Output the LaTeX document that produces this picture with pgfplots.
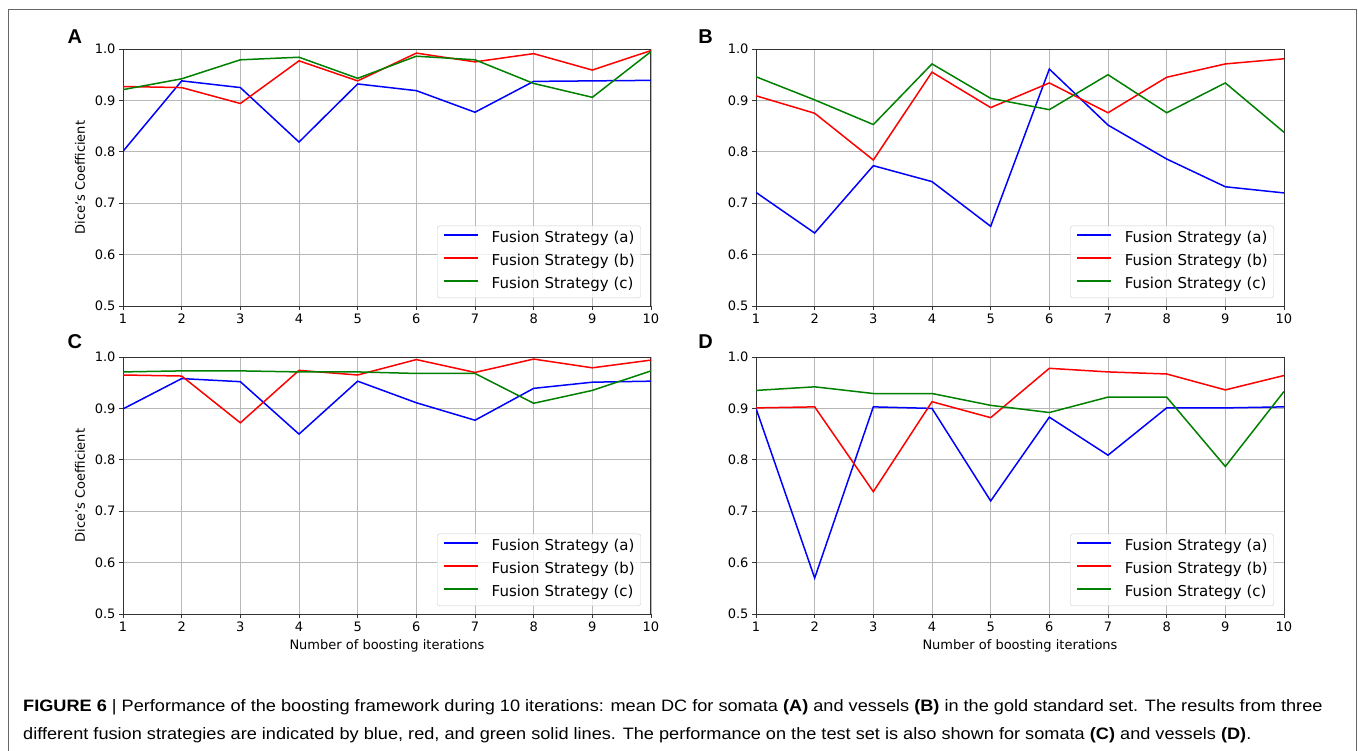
\documentclass[border=0pt]{standalone}
\usepackage{fontspec}
\setmainfont{DejaVu Sans}
\newfontfamily\capfont[FakeStretch=1.1]{Liberation Sans}
\newfontfamily\letterfont{Liberation Sans}
\usepackage{pgfplots}
\usepackage{pgfplotstable}
\pgfplotsset{compat=1.18}

\definecolor{mplblue}{RGB}{0,0,255}
\definecolor{mplred}{RGB}{255,0,0}
\definecolor{mplgreen}{RGB}{0,128,0}

% iteration, strategy a, b, c
\pgfplotstableread{
x a b c
1 0.801 0.927 0.921
2 0.938 0.925 0.942
3 0.925 0.894 0.979
4 0.819 0.977 0.984
5 0.932 0.938 0.943
6 0.919 0.992 0.986
7 0.877 0.975 0.979
8 0.937 0.991 0.933
9 0.938 0.959 0.906
10 0.939 0.997 0.995
}\dataA
\pgfplotstableread{
x a b c
1 0.721 0.909 0.946
2 0.642 0.875 0.901
3 0.773 0.784 0.853
4 0.742 0.955 0.971
5 0.655 0.886 0.904
6 0.961 0.934 0.882
7 0.852 0.876 0.950
8 0.786 0.945 0.876
9 0.732 0.971 0.934
10 0.720 0.981 0.838
}\dataB
\pgfplotstableread{
x a b c
1 0.899 0.965 0.971
2 0.958 0.963 0.973
3 0.952 0.872 0.973
4 0.850 0.974 0.971
5 0.953 0.965 0.971
6 0.911 0.995 0.968
7 0.877 0.970 0.968
8 0.939 0.996 0.910
9 0.951 0.979 0.935
10 0.953 0.994 0.973
}\dataC
\pgfplotstableread{
x a b c
1 0.900 0.901 0.935
2 0.570 0.903 0.942
3 0.903 0.738 0.929
4 0.900 0.913 0.929
5 0.720 0.882 0.906
6 0.883 0.978 0.892
7 0.809 0.971 0.922
8 0.901 0.967 0.922
9 0.901 0.936 0.787
10 0.903 0.964 0.933
}\dataD

\pgfplotsset{
  panel/.style={
    scale only axis,
    width=528pt, height=257pt,
    xmin=1, xmax=10, ymin=0.5, ymax=1.0,
    xtick={1,2,3,4,5,6,7,8,9,10},
    ytick={0.5,0.6,0.7,0.8,0.9,1.0},
    /pgf/number format/assume math mode=true,
    tick label style={font=\fontsize{13}{15}\selectfont},
    yticklabel style={/pgf/number format/fixed, /pgf/number format/fixed zerofill, /pgf/number format/precision=1},
    grid=major,
    major grid style={black!28, line width=0.8pt},
    axis line style={black!80, line width=1pt},
    tick style={black!80, line width=0.9pt},
    tick align=outside, major tick length=4pt,
    xtick pos=bottom, ytick pos=left,
    every axis y label/.style={at={(axis description cs:-0.0814,0.5)}, rotate=90, anchor=center, font=\fontsize{13}{15}\selectfont},
    every axis x label/.style={at={(axis description cs:0.5,-0.1245)}, anchor=center, font=\fontsize{13}{15}\selectfont},
    legend style={at={(0.981,0.031)}, anchor=south east,
      draw=black!20, fill=white, fill opacity=0.8, draw opacity=1, text opacity=1,
      rounded corners=2.5pt, inner xsep=6pt, inner ysep=6pt,
      row sep=9pt, column sep=13pt,
      font=\fontsize{15}{18}\selectfont,
      nodes={inner sep=0pt, text height=11pt, text depth=3pt}},
    legend cell align=left,
    legend image code/.code={\draw[#1, line width=1.5pt] (0pt,4pt) -- (34pt,4pt);},
    every axis plot/.append style={line width=1.5pt},
  }
}

\begin{document}
\begin{tikzpicture}
\useasboundingbox (0,0) rectangle (1358pt,-750pt);
\draw[black!60, line width=1pt] (8pt,-760pt) -- (8pt,-9pt) -- (1356pt,-9pt) -- (1356pt,-760pt);

\begin{axis}[panel, at={(123pt,-306pt)}, anchor=south west, ylabel={Dice's Coefficient}]
\addplot[mplblue] table[x=x, y=a] {\dataA};
\addplot[mplred] table[x=x, y=b] {\dataA};
\addplot[mplgreen] table[x=x, y=c] {\dataA};
\legend{Fusion Strategy (a), Fusion Strategy (b), Fusion Strategy (c)}
\end{axis}

\begin{axis}[panel, at={(756pt,-306pt)}, anchor=south west]
\addplot[mplblue] table[x=x, y=a] {\dataB};
\addplot[mplred] table[x=x, y=b] {\dataB};
\addplot[mplgreen] table[x=x, y=c] {\dataB};
\legend{Fusion Strategy (a), Fusion Strategy (b), Fusion Strategy (c)}
\end{axis}

\begin{axis}[panel, at={(123pt,-614pt)}, anchor=south west, ylabel={Dice's Coefficient}, xlabel={Number of boosting iterations}]
\addplot[mplblue] table[x=x, y=a] {\dataC};
\addplot[mplred] table[x=x, y=b] {\dataC};
\addplot[mplgreen] table[x=x, y=c] {\dataC};
\legend{Fusion Strategy (a), Fusion Strategy (b), Fusion Strategy (c)}
\end{axis}

\begin{axis}[panel, at={(756pt,-614pt)}, anchor=south west, xlabel={Number of boosting iterations}]
\addplot[mplblue] table[x=x, y=a] {\dataD};
\addplot[mplred] table[x=x, y=b] {\dataD};
\addplot[mplgreen] table[x=x, y=c] {\dataD};
\legend{Fusion Strategy (a), Fusion Strategy (b), Fusion Strategy (c)}
\end{axis}

\begin{scope}[every node/.style={font=\letterfont\bfseries\fontsize{20}{22}\selectfont, inner sep=0pt}]
\node at (74.8pt,-36.3pt) {A};
\node at (705.5pt,-36.3pt) {B};
\node at (74.8pt,-342pt) {C};
\node at (705.5pt,-342pt) {D};
\end{scope}

\begin{scope}[every node/.style={font=\capfont\fontsize{16.5}{18}\selectfont, inner sep=0pt, anchor=base west}]
\node at (23pt,-711pt) {\textbf{FIGURE 6} \textbar{} Performance of the boosting framework during 10 iterations: mean DC for somata \textbf{(A)} and vessels \textbf{(B)} in the gold standard set. The results from three};
\node at (23pt,-739pt) {different fusion strategies are indicated by blue, red, and green solid lines. The performance on the test set is also shown for somata \textbf{(C)} and vessels \textbf{(D)}.};
\end{scope}
\end{tikzpicture}
\end{document}
